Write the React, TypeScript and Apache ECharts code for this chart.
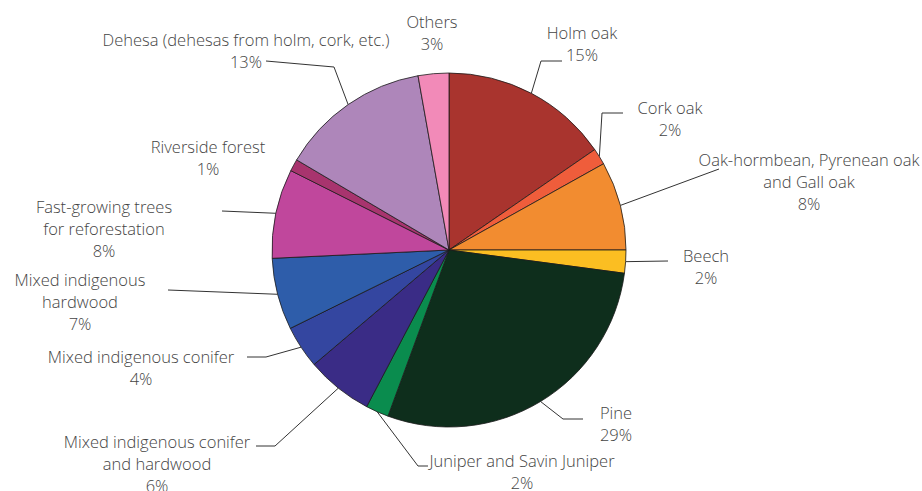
import React, { useEffect, useRef } from "react";
import * as echarts from "echarts";

const categories = [
  "Holm oak",
  "Cork oak",
  "Oak-hormbean, Pyrenean oak\nand Gall oak",
  "Beech",
  "Pine",
  "Juniper and Savin Juniper",
  "Mixed indigenous conifer\nand hardwood",
  "Mixed indigenous conifer",
  "Mixed indigenous\nhardwood",
  "Fast-growing trees\nfor reforestation",
  "Riverside forest",
  "Dehesa (dehesas from holm, cork, etc.)",
  "Others",
];
const values = [15.4, 1.5, 8.1, 2.1, 28.5, 2.1, 6.1, 3.9, 6.55, 8.15, 1.1, 13.7, 2.8];
const pctLabels = ["15%", "2%", "8%", "2%", "29%", "2%", "6%", "4%", "7%", "8%", "1%", "13%", "3%"];

const colors = [
  "#A9342E", "#EF5D3B", "#F28C30", "#FBBE22", "#0E2E1C", "#0A8C4E",
  "#3A2C86", "#3446A0", "#2E5DAA", "#C0479C", "#A8346E", "#AE86BA", "#F28AB8",
];

// layout: label centres and leader-line bends
const CX = 449, CY = 250, R = 177;
const labelPos: number[][] = [
  [582, 43.5], [670, 118], [809, 181], [706, 266], [616, 423], [522, 471],
  [157, 463], [141, 367], [80, 301], [104, 228], [208, 157], [246, 50.5], [432, 32],
];
const bends: number[][][] = [
  [[541, 61], [562, 61]],
  [[602, 113], [623, 113]],
  [[719, 169]],
  [[668, 261]],
  [[563, 419], [583, 419]],
  [[418, 466], [428, 466]],
  [[275, 446], [256, 446]],
  [[266, 357], [247, 357]],
  [[168, 290]],
  [[222, 211]],
  [],
  [[334, 67], [266, 61]],
  [],
];

export default function App() {
  const ref = useRef<HTMLDivElement>(null);
  useEffect(() => {
    document.body.style.margin = "0";
    const chart = echarts.init(ref.current!, null, { renderer: "svg" });
    const total = values.reduce((a, b) => a + b, 0);
    const mids: number[] = [];
    let cum = 0;
    values.forEach((v) => {
      mids.push(((cum + v / 2) / total) * Math.PI * 2);
      cum += v;
    });
    chart.setOption({
      animation: false,
      backgroundColor: "#ffffff",
      series: [
        {
          type: "pie",
          center: [CX, CY],
          radius: R,
          startAngle: 90,
          clockwise: true,
          avoidLabelOverlap: false,
          data: categories.map((name, i) => ({
            name,
            value: values[i],
            itemStyle: { color: colors[i] },
            labelLine: { show: bends[i].length > 0 },
          })),
          itemStyle: { borderColor: "#1a1a1a", borderWidth: 0.8 },
          label: {
            show: true,
            position: "outside",
            formatter: (p: any) => `${p.name}\n${pctLabels[p.dataIndex]}`,
            color: "#444444",
            fontFamily: "Open Sans",
            fontWeight: 300,
            fontSize: 16.5,
            lineHeight: 22,
            align: "center",
          },
          labelLine: {
            show: true,
            smooth: false,
            lineStyle: { color: "#333333", width: 1 },
          },
          labelLayout: (params: any) => {
            const i = params.dataIndex;
            const a = mids[i];
            const start = [CX + R * Math.sin(a), CY - R * Math.cos(a)];
            const res: any = {
              x: labelPos[i][0],
              y: labelPos[i][1],
              align: "center",
              verticalAlign: "middle",
            };
            if (bends[i].length > 0) {
              res.labelLinePoints = [start, ...bends[i]];
              if (res.labelLinePoints.length === 2) {
                res.labelLinePoints.push(bends[i][0]);
              }
            }
            return res;
          },
        },
      ],
    });
    return () => chart.dispose();
  }, []);
  return <div ref={ref} style={{ width: 922, height: 491 }} />;
}
